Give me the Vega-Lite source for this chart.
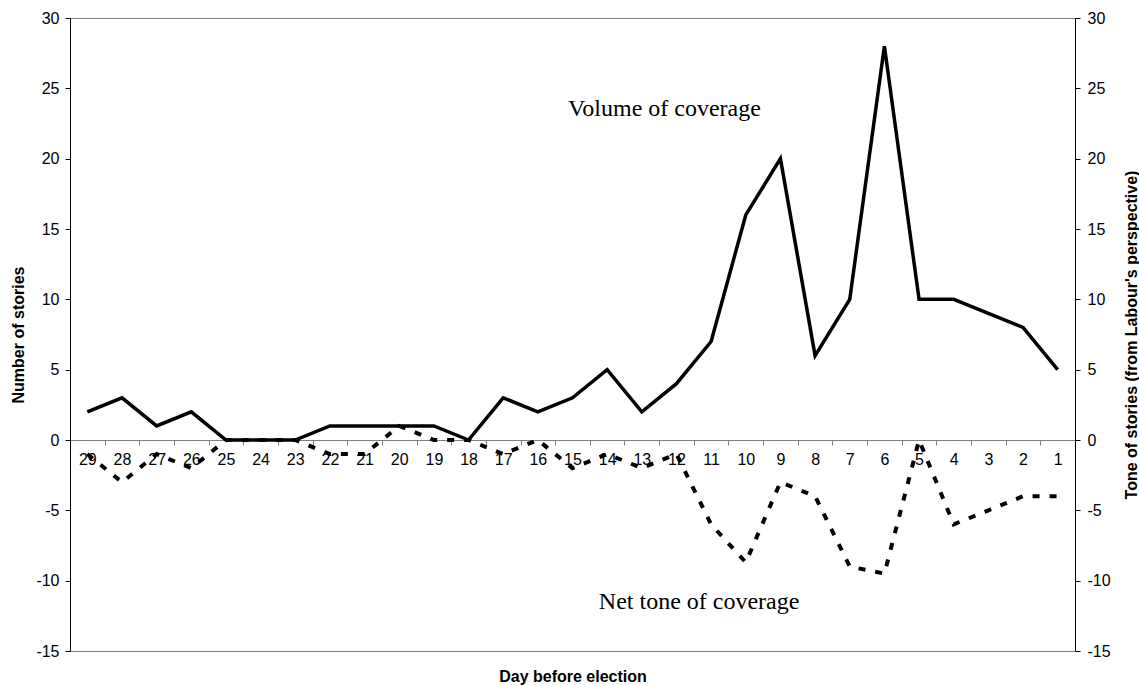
{
  "$schema": "https://vega.github.io/schema/vega-lite/v6.json",
  "width": 1005,
  "height": 633,
  "autosize": {"type": "none"},
  "padding": {"left": 70, "top": 18, "right": 64, "bottom": 34},
  "background": "#ffffff",
  "config": {
    "view": {"stroke": "#808080", "strokeWidth": 1},
    "axis": {
      "grid": false,
      "labelFont": "Liberation Sans",
      "titleFont": "Liberation Sans",
      "labelColor": "#000000",
      "titleColor": "#000000",
      "labelFontSize": 16,
      "titleFontSize": 16,
      "titleFontWeight": "bold"
    }
  },
  "data": {
    "values": [
      {"day": 29, "volume": 2, "tone": -1},
      {"day": 28, "volume": 3, "tone": -3},
      {"day": 27, "volume": 1, "tone": -1},
      {"day": 26, "volume": 2, "tone": -2},
      {"day": 25, "volume": 0, "tone": 0},
      {"day": 24, "volume": 0, "tone": 0},
      {"day": 23, "volume": 0, "tone": 0},
      {"day": 22, "volume": 1, "tone": -1},
      {"day": 21, "volume": 1, "tone": -1},
      {"day": 20, "volume": 1, "tone": 1},
      {"day": 19, "volume": 1, "tone": 0},
      {"day": 18, "volume": 0, "tone": 0},
      {"day": 17, "volume": 3, "tone": -1},
      {"day": 16, "volume": 2, "tone": 0},
      {"day": 15, "volume": 3, "tone": -2},
      {"day": 14, "volume": 5, "tone": -1},
      {"day": 13, "volume": 2, "tone": -2},
      {"day": 12, "volume": 4, "tone": -1},
      {"day": 11, "volume": 7, "tone": -6},
      {"day": 10, "volume": 16, "tone": -8.7},
      {"day": 9, "volume": 20, "tone": -3},
      {"day": 8, "volume": 6, "tone": -4},
      {"day": 7, "volume": 10, "tone": -9},
      {"day": 6, "volume": 28, "tone": -9.5},
      {"day": 5, "volume": 10, "tone": 0},
      {"day": 4, "volume": 10, "tone": -6},
      {"day": 3, "volume": 9, "tone": -5},
      {"day": 2, "volume": 8, "tone": -4},
      {"day": 1, "volume": 5, "tone": -4}
    ]
  },
  "encoding": {
    "x": {
      "field": "day",
      "type": "ordinal",
      "sort": "descending",
      "bandPosition": 0.5,
      "scale": {"type": "band", "paddingInner": 0, "paddingOuter": 0},
      "axis": {
        "orient": "bottom",
        "offset": -211,
        "labelAngle": 0,
        "tickBand": "extent",
        "tickSize": 5,
        "labelPadding": 6,
        "domainColor": "#808080",
        "tickColor": "#808080",
        "title": "Day before election",
        "titleY": 241,
        "titleBaseline": "alphabetic"
      }
    }
  },
  "layer": [
    {
      "mark": {"type": "line", "color": "#000000", "strokeWidth": 4, "strokeDash": [7, 10], "strokeCap": "butt"},
      "encoding": {
        "y": {
          "field": "tone",
          "type": "quantitative",
          "scale": {"domain": [-15, 30], "nice": false, "zero": false},
          "axis": {
            "orient": "right",
            "values": [-15, -10, -5, 0, 5, 10, 15, 20, 25, 30],
            "labelExpr": "'' + datum.value",
            "tickSize": 5,
            "labelPadding": 7,
            "domainColor": "#000000",
            "tickColor": "#000000",
            "title": "Tone of stories (from Labour's perspective)",
            "titleX": 56,
            "titleY": 316.5,
            "titleAngle": -90,
            "titleAlign": "center",
            "titleBaseline": "middle"
          }
        }
      }
    },
    {
      "mark": {"type": "line", "color": "#000000", "strokeWidth": 3.5},
      "encoding": {
        "y": {
          "field": "volume",
          "type": "quantitative",
          "scale": {"domain": [-15, 30], "nice": false, "zero": false},
          "axis": {
            "orient": "left",
            "values": [-15, -10, -5, 0, 5, 10, 15, 20, 25, 30],
            "labelExpr": "'' + datum.value",
            "tickSize": 5,
            "labelPadding": 6,
            "domainColor": "#000000",
            "tickColor": "#000000",
            "title": "Number of stories",
            "titleX": -52,
            "titleY": 316.5,
            "titleAngle": -90,
            "titleAlign": "center",
            "titleBaseline": "middle"
          }
        }
      }
    },
    {
      "data": {
        "values": [
          {"day": 12, "label": "Volume of coverage", "value": 23},
          {"day": 11, "label": "Net tone of coverage", "value": -12}
        ]
      },
      "mark": {"type": "text", "font": "Liberation Serif", "fontSize": 24, "dx": -12, "align": "center", "baseline": "alphabetic", "color": "#000000"},
      "encoding": {
        "y": {"field": "value", "type": "quantitative", "scale": {"domain": [-15, 30], "nice": false, "zero": false}, "axis": null},
        "text": {"field": "label"}
      }
    }
  ],
  "resolve": {"scale": {"y": "independent"}}
}
